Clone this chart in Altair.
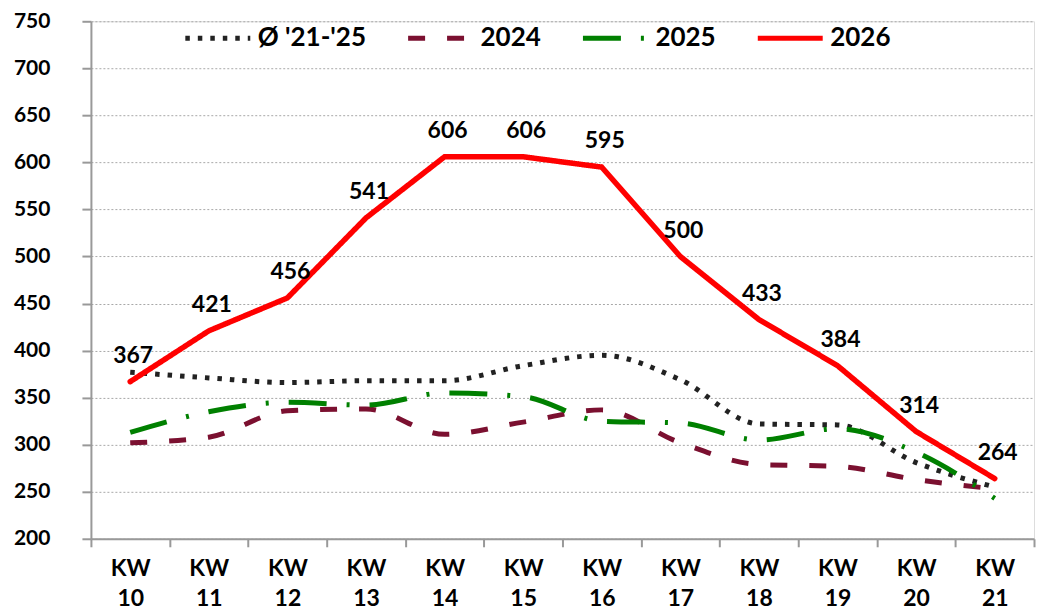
import altair as alt
import pandas as pd

weeks = ["KW 10", "KW 11", "KW 12", "KW 13", "KW 14", "KW 15",
         "KW 16", "KW 17", "KW 18", "KW 19", "KW 20", "KW 21"]
avg_21_25 = [377, 371, 366, 368, 368, 384, 395, 369, 322, 321, 281, 255]
y2024 = [302, 308, 336, 338, 311, 324, 337, 302, 279, 277, 263, 253]
y2025 = [313, 335, 345, 342, 355, 351, 325, 323, 305, 317, 292, 243]
y2026 = [367, 421, 456, 541, 606, 606, 595, 500, 433, 384, 314, 264]

series_names = ["Ø '21-'25", "2024", "2025", "2026"]
series_values = [avg_21_25, y2024, y2025, y2026]

rows = []
for name, vals in zip(series_names, series_values):
    for i, (w, v) in enumerate(zip(weeks, vals)):
        rows.append({"week": w, "value": v, "series": name, "order": i})
df = pd.DataFrame(rows)

colors = ["#222222", "#7B1030", "#008000", "#FF0000"]
dashes = [[4.5, 8], [17, 22], [38, 20, 3, 20], [1, 0]]

FONT = "Lato"

x_enc = alt.X(
    "week:N",
    sort=weeks,
    bandPosition=0.5,
    scale=alt.Scale(type="band", paddingInner=0, paddingOuter=0),
    axis=alt.Axis(
        title=None,
        labelExpr="split(datum.label, ' ')",
        labelAngle=0,
        labelFont=FONT,
        labelFontSize=23,
        labelFontWeight="bold",
        labelColor="#000000",
        labelLineHeight=30,
        labelPadding=11,
        tickBand="extent",
        tickSize=8,
        tickColor="#999999",
        tickWidth=2,
        domainColor="#999999",
        domainWidth=2,
        grid=False,
    ),
)
y_enc = alt.Y(
    "value:Q",
    scale=alt.Scale(domain=[200, 750], nice=False, zero=False),
    axis=alt.Axis(
        title=None,
        values=list(range(200, 751, 50)),
        labelFont=FONT,
        labelFontSize=21,
        labelFontWeight="bold",
        labelColor="#000000",
        labelPadding=32,
        tickSize=9,
        tickColor="#999999",
        tickWidth=2,
        domainColor="#999999",
        domainWidth=2,
        grid=True,
        gridColor="#a8a8a8",
        gridDash=[2, 2],
        gridWidth=1,
    ),
)

legend_kw = dict(
    title=None,
    orient="none",
    legendX=92,
    legendY=-18,
    direction="horizontal",
    symbolType="stroke",
    symbolSize=4225,
    symbolStrokeWidth=5,
    labelFont=FONT,
    labelFontSize=26,
    labelFontWeight="bold",
    labelColor="#000000",
    labelOffset=5,
    columnPadding=31,
    labelLimit=300,
    padding=0,
)

color_enc = alt.Color(
    "series:N",
    scale=alt.Scale(domain=series_names, range=colors),
    legend=alt.Legend(**legend_kw),
)
dash_enc = alt.StrokeDash(
    "series:N",
    scale=alt.Scale(domain=series_names, range=dashes),
    legend=alt.Legend(**legend_kw),
)

base = alt.Chart(df)

dotted = base.transform_filter(alt.datum.series == series_names[0]).mark_line(
    interpolate="monotone", strokeWidth=5, strokeCap="butt"
).encode(x=x_enc, y=y_enc, color=color_enc, strokeDash=dash_enc, order="order:Q")

dashed = base.transform_filter(
    (alt.datum.series == series_names[1]) | (alt.datum.series == series_names[2])
).mark_line(
    interpolate="monotone", strokeWidth=5, strokeCap="butt"
).encode(x=x_enc, y=y_enc, color=color_enc, strokeDash=dash_enc, order="order:Q")

red = base.transform_filter(alt.datum.series == series_names[3]).mark_line(
    strokeWidth=5.5, strokeCap="round", strokeJoin="miter"
).encode(x=x_enc, y=y_enc, color=color_enc, strokeDash=dash_enc, order="order:Q")

labels = base.transform_filter(alt.datum.series == series_names[3]).mark_text(
    font=FONT, fontSize=23, fontWeight="bold", color="#000000", dy=-26, dx=3
).encode(x=x_enc, y=y_enc, text="value:Q")

chart = alt.layer(dotted, dashed, red, labels).properties(
    width=944,
    height=518,
    autosize=alt.AutoSizeParams(type="none"),
    padding={"left": 83, "top": 13, "right": 12, "bottom": 74},
).configure_view(stroke=None).configure(background="#ffffff")

chart.save("out.html", embed_options={"renderer": "svg", "actions": False})
